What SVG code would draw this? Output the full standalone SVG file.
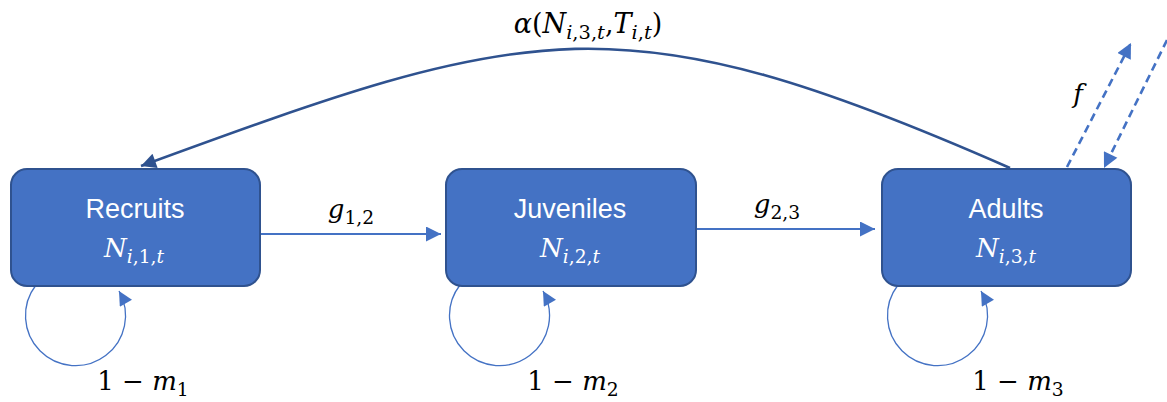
<svg xmlns="http://www.w3.org/2000/svg" width="1167" height="402" viewBox="0 0 1167 402">
<style>
.box{fill:#4472C4;stroke:#2F528F;stroke-width:2}
.lbl{font-family:"Liberation Sans",Arial,sans-serif;font-size:27px;fill:#fff;text-anchor:middle}
.m{font-family:"DejaVu Serif","Liberation Serif",serif;text-anchor:middle}
.mw{fill:#fff}
.mk{fill:#000}
.it{font-style:italic}
.sub{font-size:0.72em}
.edge{fill:none;stroke:#4472C4;stroke-width:2}
.loop{fill:none;stroke:#4472C4;stroke-width:1.3}
.big{fill:none;stroke:#2F528F;stroke-width:2.6}
.dash{fill:none;stroke:#4472C4;stroke-width:2.6;stroke-dasharray:8 5}
</style>
<defs>
<marker id="ah" viewBox="0 0 10 10" refX="10" refY="5" markerWidth="16" markerHeight="15" markerUnits="userSpaceOnUse" orient="auto"><path d="M0,0 L10,5 L0,10 z" fill="#4472C4"/></marker>
<marker id="ahd" viewBox="0 0 10 10" refX="10" refY="5" markerWidth="18" markerHeight="15" markerUnits="userSpaceOnUse" orient="auto"><path d="M0,0 L10,5 L0,10 z" fill="#2F528F"/></marker>
<marker id="ahl" viewBox="0 0 10 10" refX="10" refY="5" markerWidth="15" markerHeight="14" markerUnits="userSpaceOnUse" orient="auto"><path d="M0,0 L10,5 L0,10 z" fill="#4472C4"/></marker>
</defs>

<g id="connectors">
<path class="big" d="M1010,168 C619,-4 531,23 141,166" marker-end="url(#ahd)"/>
<line class="edge" x1="261" y1="234" x2="441" y2="234" marker-end="url(#ah)"/>
<line class="edge" x1="696" y1="229" x2="875" y2="229" marker-end="url(#ah)"/>
<path class="loop" d="M36,285 A50,50 0 1 0 119,291" marker-end="url(#ahl)"/>
<path class="loop" d="M460,285 A50,50 0 1 0 543,291" marker-end="url(#ahl)"/>
<path class="loop" d="M898,285 A50,50 0 1 0 981,291" marker-end="url(#ahl)"/>
<line class="dash" x1="1067" y1="167" x2="1131" y2="43" marker-end="url(#ah)"/>
<line class="dash" x1="1167" y1="40" x2="1104" y2="168" marker-end="url(#ah)"/>
<text class="m mk" x="588" y="33" font-size="27"><tspan class="it">α</tspan>(<tspan class="it">N</tspan><tspan class="sub" dy="6"><tspan class="it">i</tspan>,3,<tspan class="it">t</tspan></tspan><tspan dy="-6">,</tspan><tspan class="it">T</tspan><tspan class="sub" dy="6"><tspan class="it">i</tspan>,<tspan class="it">t</tspan></tspan><tspan dy="-6">)</tspan></text>
<text class="m mk it" x="1078" y="103" font-size="26">f</text>
<text class="m mk" x="351" y="218" font-size="26"><tspan class="it">g</tspan><tspan class="sub" dy="6">1,2</tspan></text>
<text class="m mk" x="777" y="213" font-size="26"><tspan class="it">g</tspan><tspan class="sub" dy="6">2,3</tspan></text>
<text class="m mk" x="143" y="390" font-size="26">1 − <tspan class="it">m</tspan><tspan class="sub" dy="6">1</tspan></text>
<text class="m mk" x="573" y="390" font-size="26">1 − <tspan class="it">m</tspan><tspan class="sub" dy="6">2</tspan></text>
<text class="m mk" x="1018" y="390" font-size="26">1 − <tspan class="it">m</tspan><tspan class="sub" dy="6">3</tspan></text>
</g>

<g id="recruits">
<rect class="box" x="11" y="169" width="249" height="117" rx="16"/>
<text class="lbl" x="135" y="218">Recruits</text>
<text class="m mw" x="134" y="257" font-size="26"><tspan class="it">N</tspan><tspan class="sub" dy="6"><tspan class="it">i</tspan>,1,<tspan class="it">t</tspan></tspan></text>
</g>

<g id="juveniles">
<rect class="box" x="446" y="169" width="250" height="117" rx="16"/>
<text class="lbl" x="570" y="218">Juveniles</text>
<text class="m mw" x="570" y="257" font-size="26"><tspan class="it">N</tspan><tspan class="sub" dy="6"><tspan class="it">i</tspan>,2,<tspan class="it">t</tspan></tspan></text>
</g>

<g id="adults">
<rect class="box" x="882" y="169" width="249" height="117" rx="16"/>
<text class="lbl" x="1006" y="218">Adults</text>
<text class="m mw" x="1006" y="257" font-size="26"><tspan class="it">N</tspan><tspan class="sub" dy="6"><tspan class="it">i</tspan>,3,<tspan class="it">t</tspan></tspan></text>
</g>
</svg>
